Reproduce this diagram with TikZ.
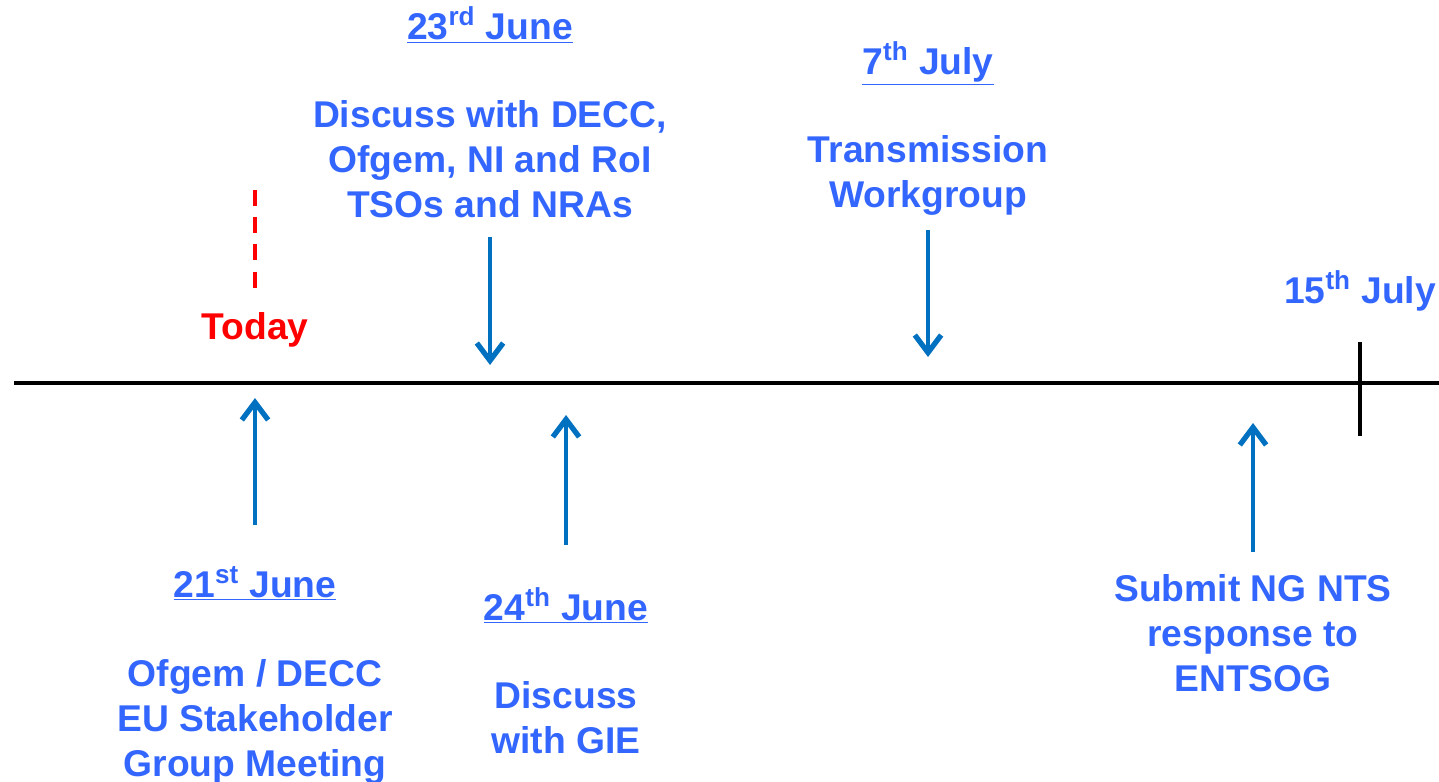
\documentclass[tikz,border=0pt]{standalone}
\usepackage{fontspec}
\setmainfont{Liberation Sans}
\usepackage{tikz}
\usetikzlibrary{arrows.meta}
\definecolor{txtblue}{HTML}{3366FF}
\definecolor{arrblue}{HTML}{0070C0}
\definecolor{todayred}{HTML}{FF0000}
\tikzset{every picture/.style={x=0.02cm,y=-0.02cm},
  label/.style={text=txtblue,font=\bfseries\fontsize{21.2}{25.6}\selectfont,align=center,anchor=base,inner sep=0pt},
  milestone/.style={draw=arrblue,line width=2.6pt,-{Straight Barb[length=10pt,width=15pt,line width=3pt]}}}

\begin{document}
\begin{tikzpicture}
\useasboundingbox (0,0) rectangle (1439,781);
% timeline
\coordinate (start) at (14,383);
\coordinate (end) at (1439,383);
\draw[line width=2.5pt] (start) -- (end);
\coordinate (t1) at (1360,342);
\coordinate (t2) at (1360,436);
\draw[line width=2.5pt] (t1) -- (t2);
\node (d15) at (1360,303) [label] {15\textsuperscript{th} July};

% today
\coordinate (now1) at (255,190);
\coordinate (now2) at (255,292);
\draw[todayred,line width=2.2pt,dash pattern=on 9pt off 6.5pt] (now1) -- (now2);
\node (today) at (255,339) [label,text=todayred] {Today};

% above the line
\node (d23) at (490,39) [label] {\underline{23\textsuperscript{rd} June}};
\node (e23) at (490,217) [label] {Discuss with DECC,\\Ofgem, NI and RoI\\TSOs and NRAs};
\node (d7) at (928,74) [label] {\underline{7\textsuperscript{th} July}};
\node (e7) at (928,207) [label] {Transmission\\Workgroup};
\coordinate (a23) at (490,237);
\coordinate (b23) at (490,365);
\coordinate (a7) at (928,230);
\coordinate (b7) at (928,357);
\draw[milestone] (a23) -- (b23);
\draw[milestone] (a7) -- (b7);

% below the line
\node (d21) at (255,597) [label] {\underline{21\textsuperscript{st} June}};
\node (e21) at (255,776) [label] {Ofgem / DECC\\EU Stakeholder\\Group Meeting};
\node (d24) at (566,620) [label] {\underline{24\textsuperscript{th} June}};
\node (e24) at (566,753) [label] {Discuss\\with GIE};
\node (ent) at (1253,691) [label] {Submit NG NTS\\response to\\ENTSOG};
\foreach \n/\x/\ya/\yb in {21/255/525/398, 24/566/545/415, 15/1253/552/423} {
\coordinate (u\n) at (\x,\ya);
\coordinate (v\n) at (\x,\yb);
\draw[milestone] (u\n) -- (v\n);
}
\end{tikzpicture}
\end{document}
